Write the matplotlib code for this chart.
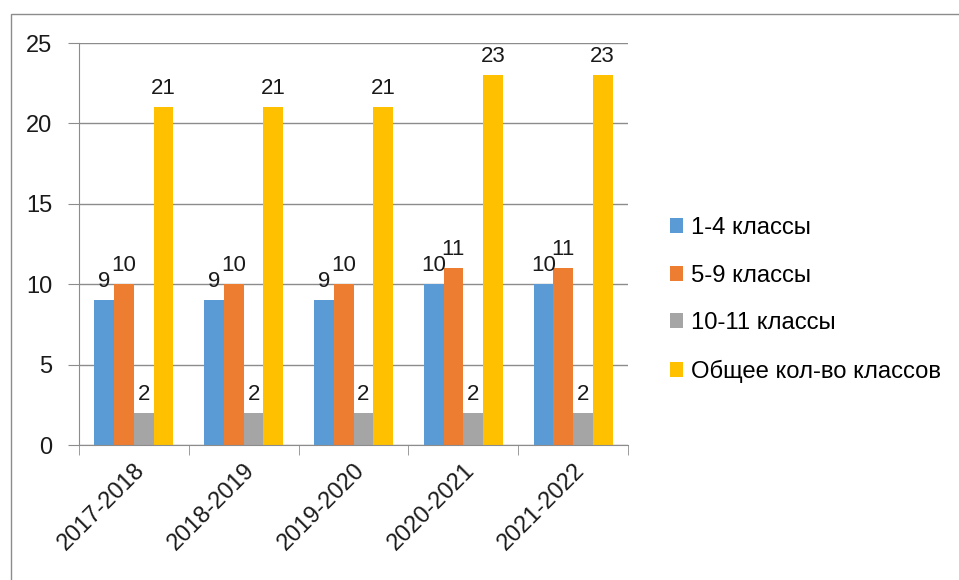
import numpy as np
import matplotlib; matplotlib.use("Agg"); import matplotlib.pyplot as plt
from matplotlib.patches import Rectangle
from matplotlib import rcParams
rcParams["font.family"] = ["Liberation Sans", "DejaVu Sans"]

years = ["2017-2018", "2018-2019", "2019-2020", "2020-2021", "2021-2022"]
series = ["1-4 классы", "5-9 классы", "10-11 классы", "Общее кол-во классов"]
v_1_4 = [9, 9, 9, 10, 10]
v_5_9 = [10, 10, 10, 11, 11]
v_10_11 = [2, 2, 2, 2, 2]
v_total = [21, 21, 21, 23, 23]
colors = ["#5B9BD5", "#ED7D31", "#A5A5A5", "#FFC000"]

W, H = 959, 580
fig = plt.figure(figsize=(W/100, H/100), dpi=100)
# outer chart border
fig.patches.append(Rectangle((11/W, -0.01), 1.02, 1 - 14/H + 0.01, transform=fig.transFigure,
                             fill=False, edgecolor="#8c8c8c", lw=1.0))
ax = fig.add_axes([79/W, 1-445/H, (628-79)/W, (445-43)/H])

x = np.arange(len(years))
bw = 0.18
for i, (vals, c, name) in enumerate(zip([v_1_4, v_5_9, v_10_11, v_total], colors, series)):
    pos = x + (i - 1.5) * bw
    bars = ax.bar(pos, vals, width=bw, color=c, label=name)
    for b, v in zip(bars, vals):
        ax.annotate(str(v), (b.get_x() + b.get_width()/2, v), xytext=(0, 6),
                    textcoords="offset points", ha="center", va="bottom",
                    fontsize=16, color="#1a1a1a")

ax.set_xlim(-0.5, len(years) - 0.5)
ax.set_ylim(0, 25)
ax.set_yticks(range(0, 26, 5))
ax.yaxis.grid(True, color="#8c8c8c", lw=1.0)
ax.set_axisbelow(True)
for s in ["top", "right"]:
    ax.spines[s].set_visible(False)
for s in ["left", "bottom"]:
    ax.spines[s].set_color("#8c8c8c")
ax.tick_params(axis="y", length=8, color="#8c8c8c", labelsize=17, pad=11, labelcolor="#1a1a1a")
ax.set_xticks(x)
ax.set_xticklabels(years, rotation=45, ha="right", va="top", rotation_mode="anchor",
                   fontsize=17, color="#1a1a1a")
ax.tick_params(axis="x", which="major", length=0, pad=10)
ax.set_xticks(np.arange(-0.5, len(years)), minor=True)
ax.tick_params(axis="x", which="minor", length=7, color="#8c8c8c")

fig.legend(loc="center left", bbox_to_anchor=(648/W, 1-300/H), frameon=False,
           fontsize=17.2, handlelength=0.58, handleheight=0.58, handletextpad=0.33,
           labelspacing=1.08)

fig.savefig("out.png", dpi=100)
